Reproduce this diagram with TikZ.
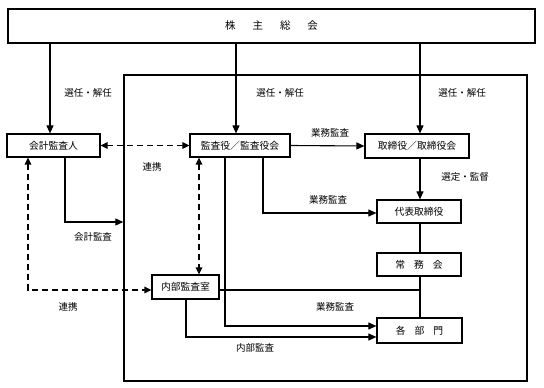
\documentclass[tikz,border=0pt]{standalone}
\usepackage{fontspec}
\setmainfont{Noto Sans CJK JP}
\usetikzlibrary{arrows.meta}
\begin{document}
\begin{tikzpicture}[x=1pt,y=-1pt,
  box/.style={draw,line width=1.2pt,inner sep=0pt,font=\fontsize{9.8}{10}\selectfont},
  lbl/.style={inner sep=0pt,font=\fontsize{9.5}{10}\selectfont},
  con/.style={line width=1.1pt},
  arr/.style={con,-{Triangle[length=8pt,width=7pt]}},
  dsh/.style={line width=1.5pt,dash pattern=on 6pt off 4pt},
  darr/.style={dsh,{Triangle[length=7pt,width=6.5pt]}-{Triangle[length=7pt,width=6.5pt]}}]
\useasboundingbox (0,0) rectangle (544,388);
% nodes
\node[box,line width=2.6pt,minimum width=527pt,minimum height=34pt,font=\fontsize{10.5}{11}\selectfont] (top) at (271.5,26) {株\hspace{17pt}主\hspace{17pt}総\hspace{17pt}会};
\node[draw,line width=1.4pt,minimum width=403pt,minimum height=306pt,inner sep=0pt] (frame) at (325.5,228) {};
\node[box,minimum width=93pt,minimum height=23pt] (kaikei) at (53.5,145.5) {会計監査人};
\node[box,minimum width=100pt,minimum height=23pt] (kansa) at (240,145.5) {監査役／監査役会};
\node[box,minimum width=104pt,minimum height=24pt] (tori) at (417,146) {取締役／取締役会};
\node[box,minimum width=84pt,minimum height=23pt] (daihyo) at (419,211.5) {代表取締役};
\node[box,minimum width=84pt,minimum height=23pt] (jomu) at (419,264.5) {常\hspace{9pt}務\hspace{9pt}会};
\node[box,minimum width=85pt,minimum height=25pt] (kakubu) at (419.5,330.5) {各\hspace{9pt}部\hspace{9pt}門};
\node[box,minimum width=67pt,minimum height=24pt] (naibu) at (185.5,287) {内部監査室};
% helper coordinates
\coordinate (xa) at (50,0);
\coordinate (xb) at (236,0);
\coordinate (xc) at (420,0);
\coordinate (xk) at (65,0);
\coordinate (xd) at (28,0);
\coordinate (xe) at (199,0);
\coordinate (xf) at (263,0);
\coordinate (xg) at (225,0);
\coordinate (xh) at (186,0);
\coordinate (ya) at (0,222);
\coordinate (yb) at (0,213);
\coordinate (yc) at (0,326);
\coordinate (yd) at (0,337);
\coordinate (ye) at (0,290);
% connectors from top
\draw[arr] (top.south -| xa) -- (kaikei.north -| xa);
\draw[arr] (top.south -| xb) -- (kansa.north -| xb);
\draw[arr] (top.south -| xc) -- (tori.north -| xc);
% accounting audit
\draw[arr] (kaikei.south -| xk) |- (frame.west |- ya);
% dashed cooperation
\draw[darr] (kaikei.east) -- (kansa.west);
\draw[darr] (kaikei.south -| xd) |- (naibu.west |- ye);
\draw[darr] (kansa.south -| xe) -- (naibu.north -| xe);
% business audits
\draw[arr] (kansa.east) -- (tori.west);
\draw[arr] (kansa.south -| xf) |- (daihyo.west |- yb);
\draw[arr] (kansa.south -| xg) |- (kakubu.west |- yc);
\draw[arr] (naibu.south -| xh) |- (kakubu.west |- yd);
\draw[con] (naibu.east |- ye) -- (xc |- ye);
% management chain
\draw[arr] (tori.south -| xc) -- (daihyo.north -| xc);
\draw[con] (daihyo.south -| xc) -- (jomu.north -| xc);
\draw[con] (jomu.south -| xc) -- (kakubu.north -| xc);
% labels
\node[lbl] (l1) at (88,93) {選任・解任};
\node[lbl] (l2) at (280,93) {選任・解任};
\node[lbl] (l3) at (462,93) {選任・解任};
\node[lbl] (l4) at (152,167) {連携};
\node[lbl] (l5) at (68,307) {連携};
\node[lbl] (l6) at (93,237) {会計監査};
\node[lbl] (l7) at (330,133) {業務監査};
\node[lbl] (l8) at (328,200) {業務監査};
\node[lbl] (l9) at (335,307) {業務監査};
\node[lbl] (l10) at (255,348) {内部監査};
\node[lbl] (l11) at (465,177) {選定・監督};
\end{tikzpicture}
\end{document}
